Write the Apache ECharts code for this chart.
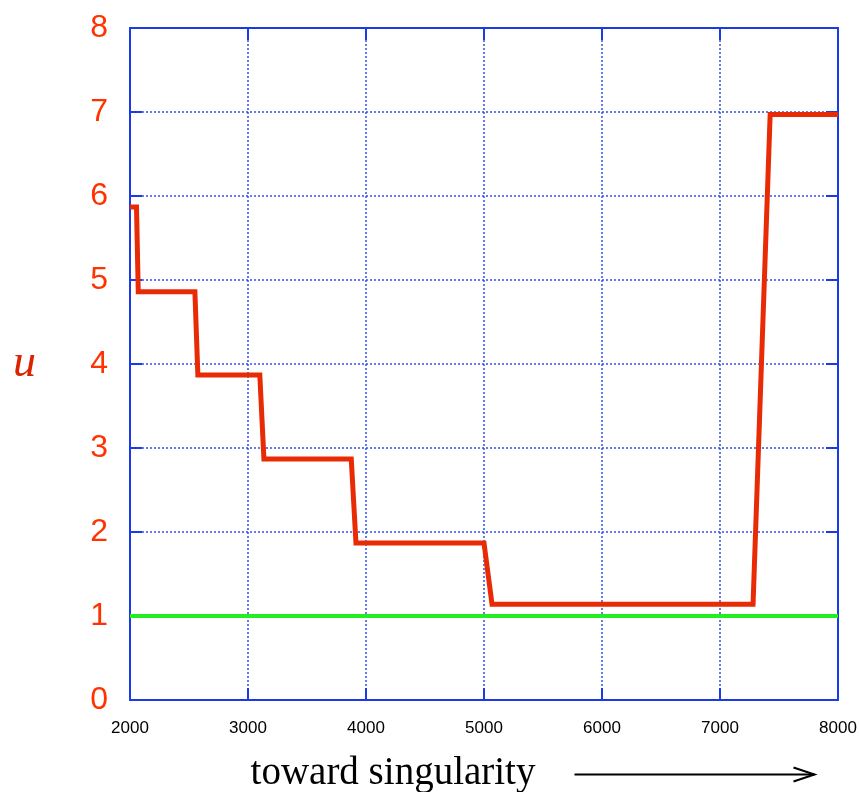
<!DOCTYPE html>
<html>
<head>
<meta charset="utf-8">
<script src="https://cdn.jsdelivr.net/npm/echarts@6/dist/echarts.min.js"></script>
<style>html,body{margin:0;padding:0;background:#fff;}#c{width:859px;height:792px;}</style>
</head>
<body>
<div id="c"></div>
<script>
const xTicks = [2000, 3000, 4000, 5000, 6000, 7000, 8000];
const yTicks = [0, 1, 2, 3, 4, 5, 6, 7, 8];
const uX = [2000, 2055, 2070, 2550, 2575, 3100, 3135, 3875, 3915, 5000, 5068, 7280, 7425, 8000];
const uY = [5.87, 5.87, 4.86, 4.86, 3.87, 3.87, 2.87, 2.87, 1.87, 1.87, 1.14, 1.14, 6.97, 6.97];
const refX = [2000, 8000];
const refY = [1, 1];

const BLUE = '#1a3be6';
const chart = echarts.init(document.getElementById('c'));
const tickStyle = { show: true, inside: true, length: 12, lineStyle: { color: BLUE, width: 2 } };
const gridLine = { show: true, lineStyle: { color: '#2a4ae8', type: [2, 2], width: 1.6, opacity: 0.9 } };
chart.setOption({
  animation: false,
  grid: { left: 130, right: 21, top: 28, bottom: 92, show: false, containLabel: false, outerBoundsMode: 'none' },
  xAxis: [{
    type: 'value', min: 2000, max: 8000, interval: 1000,
    axisLine: { show: true, onZero: false, lineStyle: { color: BLUE, width: 2 } },
    axisTick: tickStyle,
    splitLine: gridLine,
    axisLabel: { color: '#000', fontSize: 17, fontFamily: 'Liberation Sans', margin: 20,
      formatter: v => xTicks.includes(v) ? String(v) : '' },
    name: 'toward singularity', nameLocation: 'middle', nameGap: 54,
    nameTextStyle: { fontFamily: 'Liberation Serif', fontSize: 39, color: '#000', padding: [0, 182, 0, 0] }
  }, {
    type: 'value', min: 2000, max: 8000, interval: 1000, position: 'top',
    axisLine: { show: true, onZero: false, lineStyle: { color: BLUE, width: 2 } },
    axisTick: tickStyle, axisLabel: { show: false }, splitLine: { show: false }
  }],
  yAxis: [{
    type: 'value', min: 0, max: 8, interval: 1,
    axisLine: { show: true, onZero: false, lineStyle: { color: BLUE, width: 2 } },
    axisTick: tickStyle,
    splitLine: gridLine,
    axisLabel: { color: '#ff3300', fontSize: 32, fontFamily: 'Liberation Sans', margin: 22,
      formatter: v => yTicks.includes(v) ? String(v) : '' },
    name: 'u', nameLocation: 'middle', nameRotate: 0, nameGap: 94,
    nameTextStyle: { fontFamily: 'Liberation Serif', fontStyle: 'italic', fontSize: 46, color: '#dd2200', padding: [0, 0, 8, 0] }
  }, {
    type: 'value', min: 0, max: 8, interval: 1, position: 'right',
    axisLine: { show: true, onZero: false, lineStyle: { color: BLUE, width: 2 } },
    axisTick: tickStyle, axisLabel: { show: false }, splitLine: { show: false }
  }],
  series: [{
    type: 'line', data: refX.map((x, i) => [x, refY[i]]), symbol: 'none',
    lineStyle: { color: '#22ee22', width: 4 }, z: 3
  }, {
    type: 'line', data: uX.map((x, i) => [x, uY[i]]), symbol: 'none',
    lineStyle: { color: '#e82a05', width: 5, join: 'miter' }, z: 4
  }],
  graphic: [{
    type: 'group', left: 572, top: 765,
    children: [
      { type: 'line', shape: { x1: 0, y1: 13, x2: 240, y2: 13 }, style: { stroke: '#000', lineWidth: 2 } },
      { type: 'polyline', shape: { points: [[219, 6], [240, 13], [219, 20]] }, style: { stroke: '#000', lineWidth: 2, fill: null } }
    ]
  }]
});
</script>
</body>
</html>
